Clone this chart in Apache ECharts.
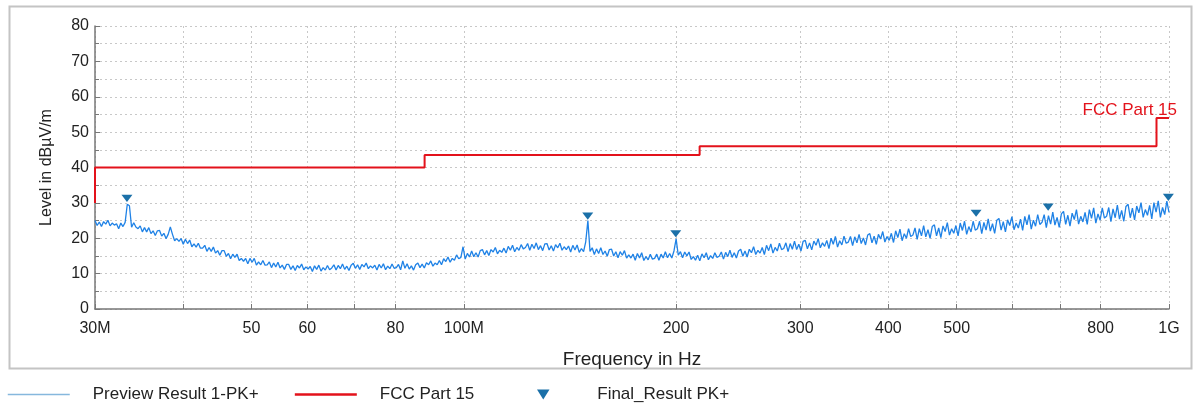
<!DOCTYPE html>
<html>
<head>
<meta charset="utf-8">
<title>FCC Part 15 radiated emission</title>
<script src="https://cdn.jsdelivr.net/npm/echarts@6.0.0/dist/echarts.min.js"></script>
<style>
  html, body { margin: 0; padding: 0; background: #fff; }
  #main { width: 1195px; height: 406px; }
</style>
</head>
<body>
<div id="main"></div>
<script>
// sweep of the preview scan (MHz), log spaced points
const sweepStartMHz = 30;
const sweepStopMHz = 1000;
// Preview Result 1-PK+ levels in dBuV/m
const previewLevels = [
  25.0, 23.6, 24.6, 23.3, 24.7, 24.0, 25.1, 23.5, 24.3, 23.7,
  24.1, 22.7, 24.3, 23.3, 24.5, 29.6, 29.2, 23.1, 24.4, 23.2,
  22.7, 23.5, 21.8, 23.0, 21.8, 23.0, 21.3, 22.1, 20.8, 22.1,
  22.2, 20.6, 21.4, 19.9, 21.1, 23.2, 21.1, 19.3, 19.9, 19.1,
  19.9, 18.3, 19.7, 18.5, 19.5, 17.6, 18.4, 17.5, 18.6, 17.2,
  17.2, 18.0, 16.3, 17.4, 16.3, 17.5, 15.8, 16.5, 15.2, 16.5,
  16.5, 14.9, 15.7, 14.2, 15.5, 14.6, 15.5, 13.7, 14.3, 13.5,
  14.3, 12.8, 14.3, 13.2, 14.3, 12.4, 13.3, 12.5, 13.7, 12.4,
  12.5, 13.3, 11.7, 13.0, 11.9, 13.2, 11.6, 12.4, 11.2, 12.6,
  12.6, 11.2, 12.2, 10.9, 12.3, 11.6, 12.7, 11.1, 11.9, 11.3,
  12.0, 10.6, 12.2, 11.2, 12.4, 10.7, 11.7, 11.0, 12.3, 11.1,
  11.6, 12.5, 11.0, 12.3, 11.4, 12.7, 11.2, 12.1, 10.9, 12.4,
  12.9, 11.5, 12.5, 11.2, 12.6, 11.9, 13.0, 11.4, 12.2, 11.6,
  12.4, 11.0, 12.6, 11.6, 12.8, 11.1, 12.1, 11.4, 12.7, 11.5,
  11.7, 12.6, 11.1, 13.6, 11.5, 12.8, 11.3, 12.2, 11.0, 12.5,
  13.0, 11.7, 12.7, 11.6, 13.1, 12.5, 13.6, 12.1, 13.0, 12.5,
  13.7, 12.5, 14.2, 13.4, 14.7, 13.2, 14.3, 13.8, 15.3, 14.2,
  14.6, 17.6, 14.1, 15.7, 14.7, 16.4, 14.8, 15.9, 14.7, 16.5,
  16.8, 15.3, 16.5, 15.1, 16.8, 16.1, 17.4, 15.6, 16.6, 16.0,
  17.2, 15.8, 17.7, 16.6, 18.0, 16.2, 17.4, 16.6, 18.2, 17.0,
  17.4, 18.5, 16.6, 18.3, 17.1, 18.7, 16.8, 17.9, 16.5, 18.4,
  18.5, 16.7, 17.9, 16.4, 18.2, 17.3, 18.6, 16.6, 17.6, 16.8,
  17.8, 16.1, 18.0, 16.7, 18.1, 16.0, 17.1, 16.2, 19.0, 25.0,
  16.3, 17.3, 15.4, 17.0, 15.7, 17.3, 15.4, 16.4, 14.9, 16.8,
  16.9, 15.0, 16.2, 14.5, 16.2, 15.2, 16.5, 14.4, 15.3, 14.4,
  15.5, 13.8, 15.7, 14.4, 15.9, 13.7, 14.8, 13.9, 15.5, 14.1,
  14.3, 15.5, 13.8, 15.5, 14.4, 16.2, 14.5, 15.7, 14.4, 16.4,
  19.8, 15.2, 16.2, 14.5, 16.1, 15.0, 16.1, 14.0, 14.8, 13.8,
  15.2, 13.6, 15.6, 14.5, 15.9, 13.9, 15.1, 14.3, 15.9, 14.6,
  14.9, 16.1, 14.1, 16.0, 14.8, 16.6, 14.6, 15.9, 14.4, 16.4,
  16.9, 14.9, 16.4, 14.7, 16.9, 15.9, 17.6, 15.4, 16.6, 15.8,
  17.4, 15.4, 18.0, 16.5, 18.4, 15.8, 17.4, 16.4, 18.6, 16.8,
  17.1, 18.7, 16.2, 18.5, 16.9, 19.2, 16.8, 18.3, 16.4, 19.1,
  19.4, 17.0, 18.7, 16.7, 19.2, 18.0, 19.9, 17.3, 18.7, 17.7,
  19.4, 17.1, 20.0, 18.3, 20.5, 17.5, 19.3, 18.1, 20.6, 18.6,
  18.9, 20.5, 17.9, 20.4, 18.7, 21.1, 18.5, 20.1, 18.1, 20.9,
  21.3, 18.7, 20.6, 18.3, 21.1, 19.8, 21.9, 18.9, 20.5, 19.4,
  21.4, 18.8, 22.1, 20.2, 22.6, 19.3, 21.3, 20.0, 22.7, 20.5,
  20.9, 22.9, 19.7, 22.7, 20.7, 23.6, 20.4, 22.4, 20.0, 23.3,
  23.8, 20.7, 22.9, 20.2, 23.5, 21.9, 24.4, 20.9, 22.7, 21.4,
  23.6, 20.7, 24.3, 22.2, 24.8, 21.1, 23.3, 21.8, 24.8, 22.3,
  22.7, 24.8, 21.3, 24.5, 22.3, 25.5, 22.0, 24.1, 21.4, 25.1,
  25.6, 22.3, 24.7, 21.8, 25.2, 23.6, 26.1, 22.4, 24.3, 22.9,
  25.4, 22.2, 26.2, 23.8, 26.7, 22.6, 25.1, 23.4, 26.7, 23.9,
  24.5, 26.7, 23.0, 26.4, 24.0, 27.4, 23.7, 25.9, 23.1, 26.9,
  27.6, 23.9, 26.5, 23.4, 27.1, 25.3, 28.1, 24.0, 26.2, 24.6,
  27.3, 23.9, 28.1, 25.6, 28.6, 24.3, 26.9, 25.1, 28.6, 25.7,
  26.2, 28.7, 24.7, 28.3, 25.8, 29.4, 25.4, 27.9, 24.8, 29.0,
  29.6, 25.8, 28.5, 25.2, 29.1, 27.2, 30.1, 25.9, 28.1, 26.5,
  29.3, 25.5, 30.1, 27.4, 30.6, 25.9, 28.7, 26.7, 30.5, 27.3
];

// FCC Part 15 limit: band edges (MHz) and level per band
const limitEdges = [30, 88, 216, 960, 1000];
const limitLevels = [40, 43.5, 46, 54];
const limitStartLevel = 30;

// Final_Result PK+
const finalFreqs = [33.3, 149.9, 199.8, 532.7, 674.0, 998.0];
const finalLevels = [30.0, 25.0, 20.0, 25.8, 27.5, 30.3];

// axis ticks / labels (MHz)
const tickFreqs = [30, 40, 50, 60, 70, 80, 100, 200, 300, 400, 500, 600, 700, 800, 1000];
const labelFreqs = [30, 50, 60, 80, 100, 200, 300, 400, 500, 800, 1000];
const labelTexts = ['30M', '50', '60', '80', '100M', '200', '300', '400', '500', '800', '1G'];

const FONT = 'Arial, "Liberation Sans", sans-serif';
const lg = Math.log10;
const xMin = lg(sweepStartMHz);
const xMax = lg(sweepStopMHz);

// frequency axis is drawn on log10(MHz)
const previewData = previewLevels.map(function (v, i) {
  return [xMin + (i * (xMax - xMin)) / (previewLevels.length - 1), v];
});

const limitData = [[lg(limitEdges[0]), limitStartLevel]];
for (let k = 0; k < limitLevels.length; k++) {
  limitData.push([lg(limitEdges[k]), limitLevels[k]]);
  limitData.push([lg(limitEdges[k + 1]), limitLevels[k]]);
}

const finalData = finalFreqs.map(function (f, i) {
  return [lg(f), finalLevels[i]];
});

const triangleDown = 'path://M0,0L20,0L10,16Z';

const myChart = echarts.init(document.getElementById('main'));

const option = {
  animation: false,
  backgroundColor: '#fff',
  graphic: [
    {
      type: 'rect',
      left: 7,
      top: 4,
      shape: { width: 1182, height: 362 },
      style: { fill: 'none', stroke: '#c4c4c4', lineWidth: 2 },
      silent: true,
    },
  ],
  legend: [
    {
      left: 2,
      top: 381,
      itemWidth: 62,
      itemHeight: 10,
      itemGap: 35,
      textStyle: {
        fontFamily: FONT,
        fontSize: 17,
        color: '#222',
        padding: [0, 0, 0, 18],
      },
      data: [
        {
          name: 'Preview Result 1-PK+',
          itemStyle: { opacity: 0 },
          lineStyle: { color: '#86b8dd', width: 1.5 },
        },
        {
          name: 'FCC Part 15',
          itemStyle: { opacity: 0 },
          lineStyle: { color: '#e3121b', width: 2.5 },
        },
      ],
    },
    {
      // triangle marker sits apart from the two line items
      left: 532,
      top: 381,
      itemWidth: 62,
      itemHeight: 10,
      textStyle: {
        fontFamily: FONT,
        fontSize: 17,
        color: '#222',
        padding: [0, 0, 0, 18],
      },
      data: [{ name: 'Final_Result PK+', icon: triangleDown }],
    },
  ],
  grid: {
    left: 95,
    right: 26,
    top: 26,
    bottom: 97,
  },
  xAxis: {
    type: 'value',
    min: xMin,
    max: xMax,
    name: 'Frequency in Hz',
    nameLocation: 'middle',
    nameGap: 41,
    nameTextStyle: { fontFamily: FONT, fontSize: 19, color: '#222' },
    axisLine: { lineStyle: { color: '#777', width: 1.5 } },
    axisTick: {
      inside: true,
      length: 5,
      customValues: tickFreqs.map(lg),
      lineStyle: { color: '#777' },
    },
    axisLabel: {
      customValues: labelFreqs.map(lg),
      margin: 12,
      fontFamily: FONT,
      fontSize: 16,
      color: '#222',
      formatter: function (v) {
        const f = Math.pow(10, v);
        let best = 0;
        for (let i = 1; i < labelFreqs.length; i++) {
          if (Math.abs(labelFreqs[i] - f) < Math.abs(labelFreqs[best] - f)) best = i;
        }
        return labelTexts[best];
      },
    },
    splitLine: {
      show: true,
      lineStyle: { color: '#c8c8c8', type: [2, 3], width: 1 },
    },
  },
  yAxis: {
    type: 'value',
    min: 0,
    max: 80,
    interval: 10,
    name: 'Level in dBµV/m',
    nameLocation: 'middle',
    nameGap: 40,
    nameTextStyle: { fontFamily: FONT, fontSize: 16, color: '#222' },
    axisLine: { show: true, lineStyle: { color: '#777', width: 1.5 } },
    axisTick: { show: true, inside: true, length: 5, lineStyle: { color: '#777' } },
    minorTick: { show: true, splitNumber: 2, length: 4, lineStyle: { color: '#777' } },
    axisLabel: { fontFamily: FONT, fontSize: 16, color: '#222', margin: 6 },
    splitLine: { lineStyle: { color: '#c8c8c8', type: [2, 3] } },
    minorSplitLine: { show: true, lineStyle: { color: '#c8c8c8', type: [2, 3] } },
  },
  series: [
    {
      name: 'Preview Result 1-PK+',
      type: 'line',
      data: previewData,
      symbol: 'none',
      lineStyle: { color: '#1f82e6', width: 1.3 },
      itemStyle: { color: '#1f82e6' },
      z: 2,
    },
    {
      name: 'FCC Part 15',
      type: 'line',
      data: limitData,
      symbol: 'none',
      lineStyle: { color: '#e3121b', width: 2 },
      itemStyle: { color: '#e3121b' },
      endLabel: {
        show: true,
        formatter: 'FCC Part 15',
        color: '#e3121b',
        fontFamily: FONT,
        fontSize: 17,
        align: 'right',
        verticalAlign: 'bottom',
        offset: [0, 1],
      },
      z: 3,
    },
    {
      name: 'Final_Result PK+',
      type: 'scatter',
      data: finalData,
      symbol: triangleDown,
      symbolSize: [11, 9],
      symbolKeepAspect: true,
      symbolOffset: [0, '-50%'],
      itemStyle: { color: '#1b70a8', opacity: 1 },
      z: 4,
    },
  ],
};

myChart.setOption(option);
</script>
</body>
</html>
